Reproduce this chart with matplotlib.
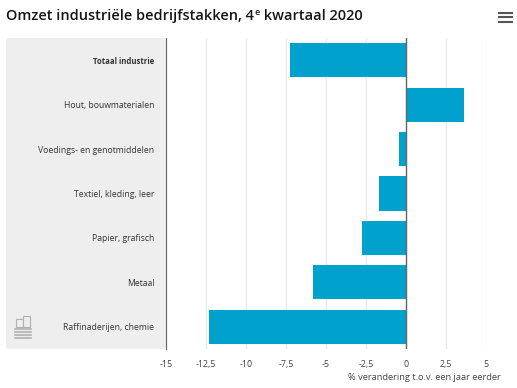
import matplotlib.pyplot as plt
from matplotlib.patches import FancyBboxPatch, Rectangle
from matplotlib.lines import Line2D

plt.rcParams['font.family'] = ['Open Sans', 'DejaVu Sans']

categories = ['Totaal industrie', 'Hout, bouwmaterialen', 'Voedings- en genotmiddelen',
              'Textiel, kleding, leer', 'Papier, grafisch', 'Metaal', 'Raffinaderijen, chemie']
values = [-7.25, 3.6, -0.45, -1.7, -2.75, -5.8, -12.3]
ticks = [-15, -12.5, -10, -7.5, -5, -2.5, 0, 2.5, 5]
tick_labels = ['-15', '-12,5', '-10', '-7,5', '-5', '-2,5', '0', '2,5', '5']

W, H = 517, 388
fig = plt.figure(figsize=(W / 100, H / 100), dpi=100)

# pixel helpers, y measured from the top
def fx(x):
    return x / W
def fy(y):
    return 1 - y / H

# grey panel behind the category labels, has to stay under the axes
panel = FancyBboxPatch((fx(9), fy(346)), (166 - 12) / W, (346 - 41) / H,
                       boxstyle='round,pad=0.006', transform=fig.transFigure,
                       facecolor='#eeeeee', edgecolor='none', mutation_aspect=W / H, zorder=-1)
fig.add_artist(panel)

ax = fig.add_axes([fx(166), fy(349), (486 - 166) / W, (349 - 38) / H])
ax.patch.set_alpha(0)
pos = list(range(len(categories)))
ax.barh(pos, values, height=0.77, color='#00a1cd', zorder=2)
ax.set_xlim(-15, 5)
ax.set_ylim(len(categories) - 0.5, -0.5)
ax.set_xticks(ticks)
ax.set_xticklabels(tick_labels, fontsize=6.4, color='#444444')
ax.set_yticks(pos)
ax.set_yticklabels(categories, fontsize=6.2, color='#333333')
ax.get_yticklabels()[0].set_fontweight('bold')
ax.get_yticklabels()[0].set_fontsize(5.6)
ax.tick_params(axis='both', length=0)
ax.tick_params(axis='x', pad=8)
ax.tick_params(axis='y', pad=8.5)
ax.grid(axis='x', color='#eaeaea', linewidth=1, zorder=0)
ax.set_axisbelow(True)
for s in ax.spines.values():
    s.set_visible(False)
ax.spines['left'].set_visible(True)
ax.spines['left'].set_color('#666666')
ax.axvline(0, color='#666666', linewidth=1, zorder=3)

fig.text(fx(501), fy(378), '% verandering t.o.v. een jaar eerder', fontsize=6.65,
         color='#444444', ha='right', va='center')

# title in three pieces for the raised e
renderer = fig.canvas.get_renderer()
t1 = fig.text(fx(6), fy(20), 'Omzet industriële bedrijfstakken, 4', fontsize=10.45,
              fontweight='semibold', color='#151515', va='baseline')
x1 = t1.get_window_extent(renderer).x1
t2 = fig.text(x1 / W + 0.001, fy(15), 'e', fontsize=6.5, fontweight='semibold',
              color='#151515', va='baseline')
x2 = t2.get_window_extent(renderer).x1
fig.text(x2 / W, fy(20), ' kwartaal 2020', fontsize=10.45, fontweight='semibold',
         color='#151515', va='baseline')

# menu icon
for y in [12.5, 17, 21.5]:
    fig.add_artist(Line2D([fx(499), fx(512)], [fy(y), fy(y)], color='#555555', linewidth=1.5))

# small logo in the panel
logo = '#b0b0b0'
for y in range(329, 341, 3):
    fig.add_artist(Line2D([fx(15), fx(31)], [fy(y), fy(y)], color=logo, linewidth=1.2))
fig.add_artist(Rectangle((fx(16), fy(327)), 7 / W, 8 / H, transform=fig.transFigure,
                         facecolor='none', edgecolor=logo, linewidth=0.8))
fig.add_artist(Rectangle((fx(23), fy(327)), 7 / W, 11 / H, transform=fig.transFigure,
                         facecolor='none', edgecolor=logo, linewidth=0.8))

fig.savefig('out.png', dpi=100)
